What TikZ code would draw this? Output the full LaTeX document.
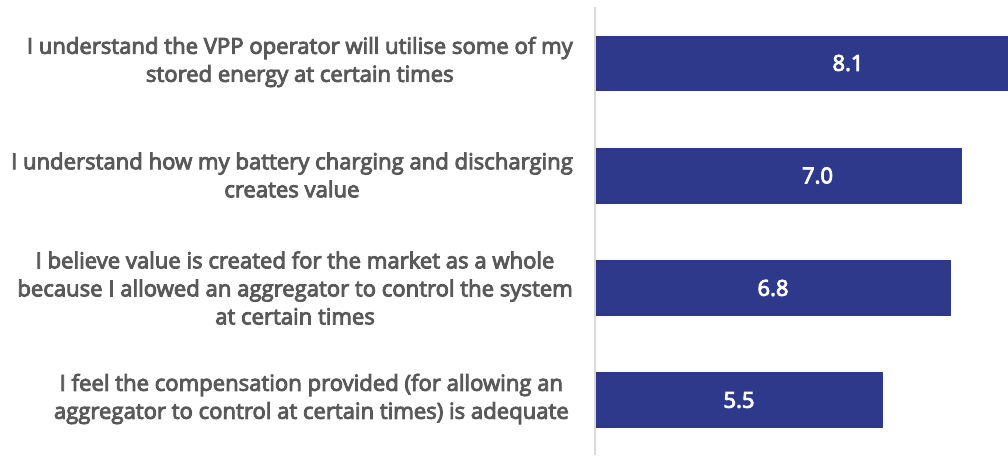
\documentclass[tikz,border=0pt]{standalone}
\usepackage{fontspec}
\setmainfont{Open Sans}[FakeBold=4]
\definecolor{barblue}{RGB}{47,57,139}
\definecolor{labgray}{RGB}{89,89,89}
\definecolor{axisgray}{RGB}{217,217,217}
\begin{document}
\begin{tikzpicture}[x=1pt,y=-1pt,
  bar/.style={fill=barblue,draw=none},
  val/.style={text=white,font=\fontsize{22}{26}\selectfont,inner sep=0pt,anchor=center},
  lab/.style={text=labgray,font=\fontsize{22.1}{28}\selectfont,align=center,anchor=east,inner sep=0pt}]
\useasboundingbox (0,0) rectangle (1008,455);
\fill[white] (0,0) rectangle (1008,455);
\draw[axisgray,line width=2pt] (595,7) coordinate (axtop) -- (595,455) coordinate (axbot);
\path[bar] (596,35.5) rectangle (1008,90.5);
\path[bar] (596,147.5) rectangle (961.5,203.5);
\path[bar] (596,260) rectangle (950.5,315.5);
\path[bar] (596,372) rectangle (882.5,428);
\node[val] (v1) at (848,63) {8.1};
\node[val] (v2) at (817.5,175.5) {7.0};
\node[val] (v3) at (773,288) {6.8};
\node[val] (v4) at (739,400) {5.5};
\node[lab] (l1) at (573,62) {I understand the VPP operator will utilise some of my\\stored energy at certain times};
\node[lab] (l2) at (573,175) {I understand how my battery charging and discharging\\creates value};
\node[lab] (l3) at (573,288) {I believe value is created for the market as a whole\\because I allowed an aggregator to control the system\\at certain times};
\node[lab] (l4) at (569,399) {I feel the compensation provided (for allowing an\\aggregator to control at certain times) is adequate};
\end{tikzpicture}
\end{document}
